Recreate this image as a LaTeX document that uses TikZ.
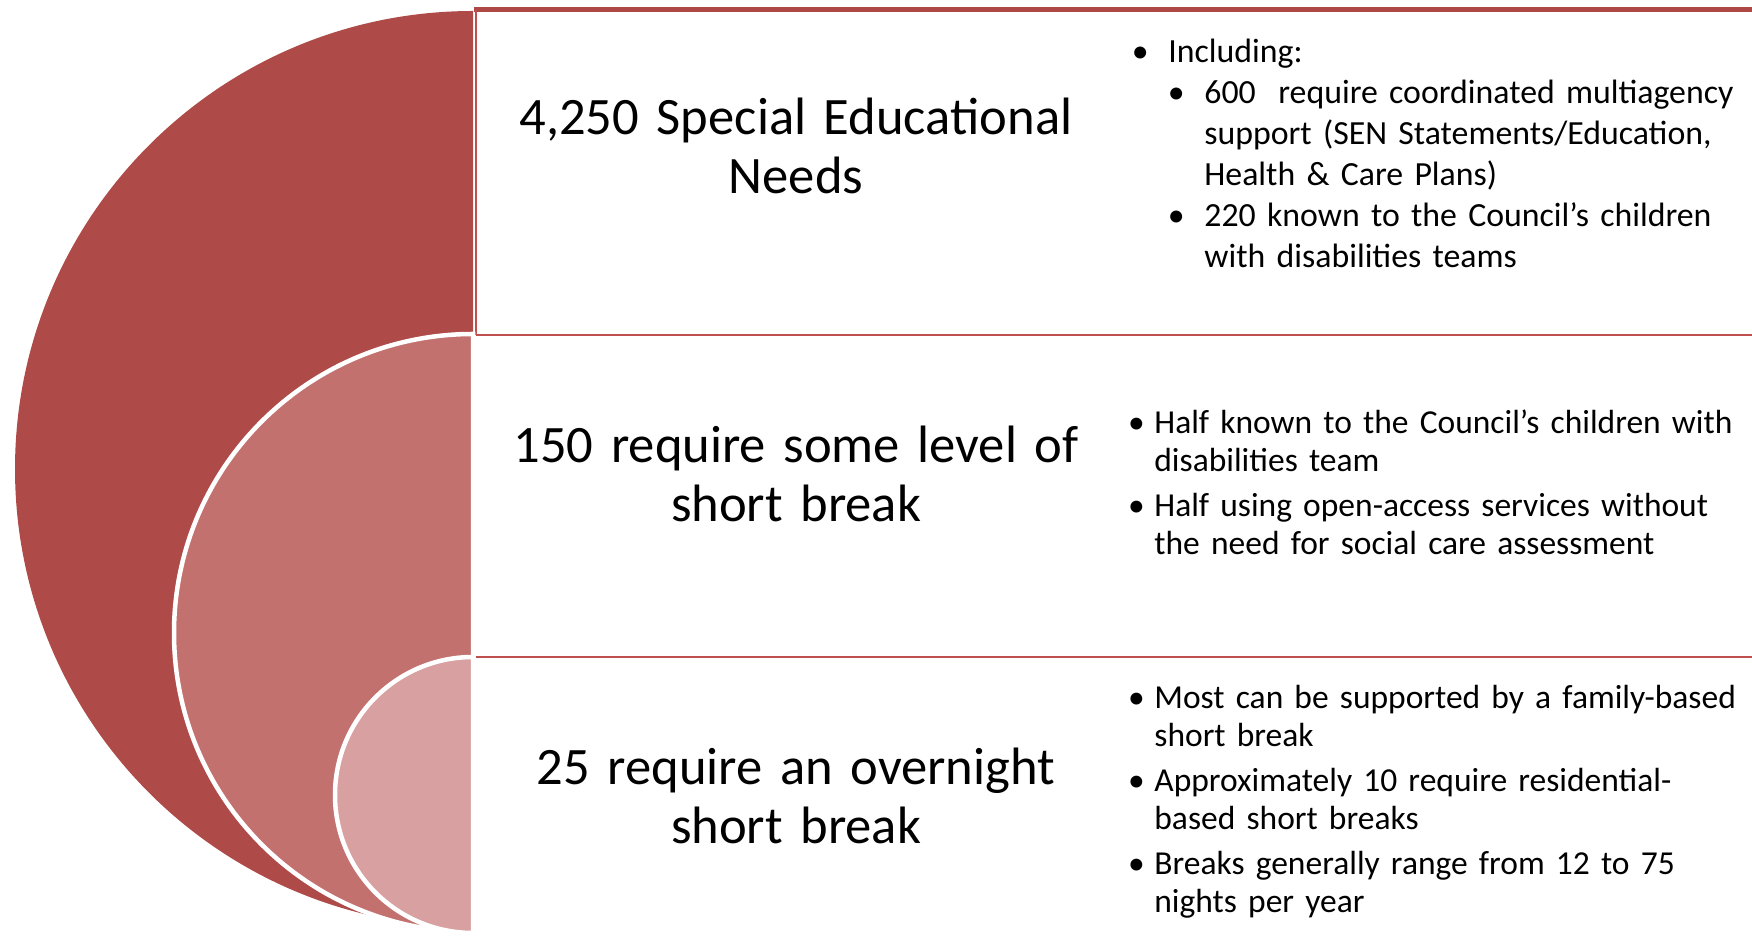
\documentclass[tikz,border=0pt]{standalone}
\usepackage{fontspec}
\setmainfont{Carlito}
\usepackage{tikz}
\usetikzlibrary{positioning}

\definecolor{bandred}{HTML}{AE4A47}
\definecolor{bandmid}{HTML}{C3716F}
\definecolor{bandlight}{HTML}{D8A0A0}
\definecolor{rowred}{HTML}{C0504D}

% bullet paragraph: left skip, label width, text
\newcommand{\bpoint}[3]{\par\leftskip=#1\relax\hangindent=#2\relax\hangafter=1\noindent\strut\makebox[#2][c]{\textbullet}#3\par}

\begin{document}
\begin{tikzpicture}[x=0.5pt,y=0.5pt,
  bandtext/.style={text width=320pt, align=center, anchor=north, inner sep=0pt, font=\fontsize{26.3pt}{29.5pt}\selectfont},
  bullettext/.style={text width=330pt, align=left, anchor=north west, inner sep=0pt, font=\fontsize{16.75pt}{19pt}\selectfont},
  rowline/.style={rowred, line width=0.8pt},
  halfdisc/.style={draw=white, line width=2.25pt}]

\useasboundingbox (0,0) rectangle (1752,936);

% Row borders
\begin{scope}
\clip (0,0) rectangle (1752,936);
\draw[rowred!90!black, line width=2.5pt] (474,926) -- (1760,926);
\draw[rowline] (476,926) -- (476,601);
\draw[rowline] (476,601) -- (1760,601);
\draw[rowline] (476,279) -- (1760,279);
\end{scope}

% Half discs
\fill[bandred] (473,925) arc[start angle=90, end angle=270, radius=458] -- cycle;
\filldraw[bandmid, halfdisc] (473,602) arc[start angle=90, end angle=270, radius=299] -- cycle;
\filldraw[bandlight, halfdisc] (473,279) arc[start angle=90, end angle=270, radius=138] -- cycle;

% Headline texts
\node[bandtext] (sen) at (796,843) {\strut 4,250 Special Educational\\ Needs};
\node[bandtext] (shortbreak) at (796,515) {\strut 150 require some level of\\ short break};
\node[bandtext] (overnight) at (796,193) {\strut 25 require an overnight\\ short break};

% Bullet lists
\node[bullettext, font=\fontsize{16.9pt}{20.5pt}\selectfont] (senlist) at (1112,915) {%
  \bpoint{0pt}{28pt}{Including:}
  \bpoint{18pt}{28pt}{600~ require coordinated multiagency\newline support (SEN Statements/Education,\newline Health \& Care Plans)}
  \bpoint{18pt}{28pt}{220 known to the Council's children\newline with disabilities teams}};

\node[bullettext] (breaklist) at (1118,548) {\setlength{\parskip}{3.5pt}%
  \bpoint{0pt}{18pt}{Half known to the Council's children with\newline disabilities team}
  \bpoint{0pt}{18pt}{Half using open-access services without\newline the need for social care assessment}};

\node[bullettext] (overnightlist) at (1118,273) {\setlength{\parskip}{3.5pt}%
  \bpoint{0pt}{18pt}{Most can be supported by a family-based\newline short break}
  \bpoint{0pt}{18pt}{Approximately 10 require residential-\newline based short breaks}
  \bpoint{0pt}{18pt}{Breaks generally range from 12 to 75\newline nights per year}};

\end{tikzpicture}
\end{document}
